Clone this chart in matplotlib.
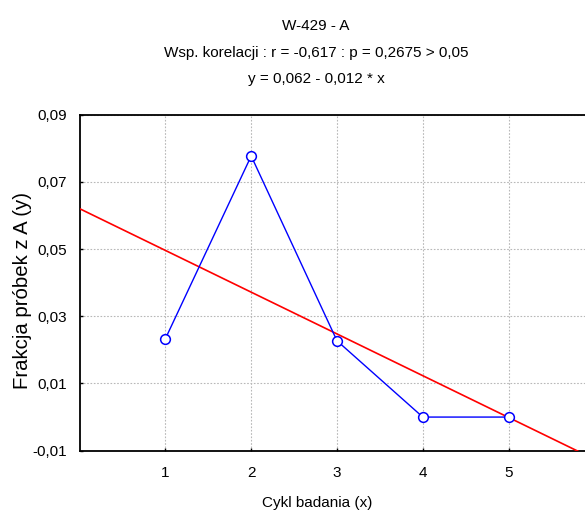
import numpy as np
import matplotlib
matplotlib.use("Agg")
import matplotlib.pyplot as plt

plt.rcParams['font.family'] = ['Liberation Sans', 'DejaVu Sans']

cycles = [1, 2, 3, 4, 5]
fractions = [0.0233, 0.0777, 0.0227, 0.0, 0.0]
yticks = [-0.01, 0.01, 0.03, 0.05, 0.07, 0.09]
ytick_labels = ["-0,01", "0,01", "0,03", "0,05", "0,07", "0,09"]
xticks = [1, 2, 3, 4, 5]
title_lines = ["W-429 - A",
               "Wsp. korelacji : r = -0,617 : p = 0,2675 > 0,05",
               "y = 0,062 - 0,012 * x"]

W, H = 585, 513
fig = plt.figure(figsize=(W / 100, H / 100), dpi=100)
ax = fig.add_axes([0.136, 0.1215, 0.864, 0.655])

xmin, xmax = 0.0, 5.89
slope, intercept = np.polyfit(cycles, fractions, 1)
xl = np.array([xmin, xmax])
ax.plot(xl, intercept + slope * xl, color='#ff0000', lw=1.2, zorder=3)
ax.plot(cycles, fractions, color='#0000ff', lw=1.0, marker='o', ms=7,
        mfc='white', mec='#0000ff', mew=1.1, zorder=4)

ax.set_xlim(xmin, xmax)
ax.set_ylim(-0.01, 0.09)
ax.set_xticks(xticks)
ax.set_xticklabels([str(v) for v in xticks])
ax.set_yticks(yticks)
ax.set_yticklabels(ytick_labels)
ax.tick_params(direction='in', length=2, width=1, labelsize=11, colors='black')
ax.tick_params(axis='x', pad=11)
ax.tick_params(axis='y', pad=9)
ax.grid(True, color='#b8b8b8', linestyle=(0, (1.5, 1.5)), lw=0.8)
for s in ['left', 'bottom', 'top']:
    ax.spines[s].set_linewidth(1.3)
ax.spines['right'].set_visible(False)

ax.set_ylabel("Frakcja próbek z A (y)", fontsize=14.7, labelpad=4)
ax.yaxis.set_label_coords(-0.095, 0.478)

fig.text(317 / W, 1 - 507 / H, "Cykl badania (x)", ha='center', va='baseline', fontsize=11)

baselines = [30, 56.5, 83]
for t, y in zip(title_lines, baselines):
    fig.text(316 / W, 1 - y / H, t, ha='center', va='baseline', fontsize=11)

fig.savefig("out.png", dpi=100)
